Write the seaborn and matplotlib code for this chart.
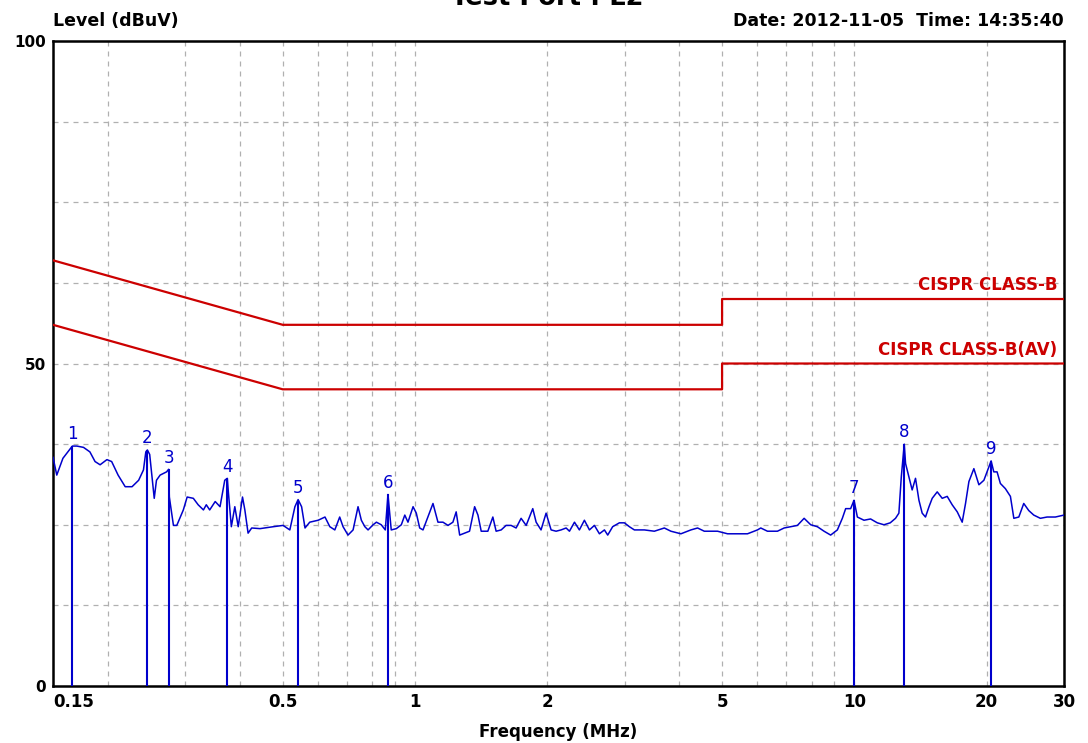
import pandas as pd
import seaborn as sns
import matplotlib
matplotlib.use('Agg')
import matplotlib.pyplot as plt
from matplotlib.ticker import FixedLocator, NullFormatter

freq_mhz = [
    0.150, 0.153, 0.158, 0.166, 0.170, 0.176, 0.182, 0.187, 0.192, 0.199,
    0.204, 0.211, 0.219, 0.227, 0.235, 0.241, 0.244, 0.246, 0.249, 0.252,
    0.255, 0.258, 0.263, 0.272, 0.275, 0.276, 0.282, 0.287, 0.297, 0.303,
    0.313, 0.321, 0.330, 0.335, 0.341, 0.351, 0.360, 0.369, 0.374, 0.376,
    0.382, 0.389, 0.396, 0.405, 0.410, 0.417, 0.425, 0.444, 0.476, 0.501,
    0.519, 0.533, 0.542, 0.552, 0.562, 0.576, 0.602, 0.624, 0.640, 0.657,
    0.674, 0.686, 0.704, 0.723, 0.742, 0.755, 0.769, 0.782, 0.803, 0.817,
    0.838, 0.856, 0.868, 0.883, 0.907, 0.931, 0.948, 0.964, 0.990, 1.007,
    1.025, 1.043, 1.070, 1.099, 1.128, 1.158, 1.189, 1.220, 1.241, 1.264,
    1.297, 1.331, 1.367, 1.391, 1.415, 1.465, 1.504, 1.530, 1.571, 1.612,
    1.655, 1.699, 1.744, 1.791, 1.854, 1.887, 1.936, 1.988, 2.041, 2.095,
    2.150, 2.208, 2.247, 2.307, 2.367, 2.430, 2.495, 2.561, 2.629, 2.699,
    2.746, 2.818, 2.919, 2.997, 3.076, 3.158, 3.327, 3.506, 3.694, 3.824,
    4.030, 4.246, 4.398, 4.555, 4.883, 5.146, 5.422, 5.713, 6.019, 6.124,
    6.343, 6.683, 6.922, 7.167, 7.421, 7.686, 7.956, 8.239, 8.532, 8.833,
    9.149, 9.391, 9.556, 9.808, 9.984, 10.16, 10.52, 10.89, 11.28, 11.68,
    12.07, 12.41, 12.63, 12.79, 12.99, 13.08, 13.31, 13.54, 13.78, 14.03,
    14.27, 14.52, 14.79, 15.04, 15.44, 15.85, 16.27, 16.70, 17.15, 17.60,
    17.91, 18.23, 18.71, 19.21, 19.72, 20.48, 20.77, 21.13, 21.50, 22.07,
    22.66, 23.07, 23.68, 24.30, 24.95, 25.61, 26.51, 27.46, 28.68, 30.00,
]
level_dbuv = [
    35.5, 32.7, 35.3, 37.2, 37.2, 37.0, 36.3, 34.8, 34.3, 35.1,
    34.8, 32.7, 30.9, 30.9, 31.9, 33.5, 36.3, 36.6, 35.9, 32.4,
    29.1, 31.9, 32.7, 33.2, 33.6, 29.3, 24.9, 24.9, 27.3, 29.3,
    29.1, 28.1, 27.3, 28.1, 27.3, 28.6, 27.8, 31.9, 32.2, 30.1,
    24.7, 27.8, 24.7, 29.3, 27.3, 23.7, 24.5, 24.4, 24.7, 24.9,
    24.2, 27.8, 28.9, 27.8, 24.5, 25.4, 25.7, 26.2, 24.7, 24.2,
    26.2, 24.7, 23.4, 24.2, 27.8, 25.7, 24.7, 24.2, 25.0, 25.4,
    25.0, 24.2, 29.7, 24.2, 24.4, 25.0, 26.5, 25.4, 27.8, 26.8,
    24.5, 24.2, 26.2, 28.3, 25.4, 25.4, 24.9, 25.4, 27.0, 23.4,
    23.7, 24.0, 27.8, 26.5, 24.0, 24.0, 26.2, 24.0, 24.2, 24.9,
    24.9, 24.5, 26.0, 24.9, 27.5, 25.4, 24.2, 26.8, 24.2, 24.0,
    24.2, 24.5, 24.0, 25.4, 24.2, 25.7, 24.2, 24.9, 23.6, 24.2,
    23.4, 24.7, 25.3, 25.3, 24.7, 24.2, 24.2, 24.0, 24.5, 24.0,
    23.6, 24.2, 24.5, 24.0, 24.0, 23.6, 23.6, 23.6, 24.2, 24.5,
    24.0, 24.0, 24.5, 24.7, 24.9, 26.0, 25.0, 24.7, 24.0, 23.4,
    24.2, 26.0, 27.5, 27.5, 28.8, 26.2, 25.7, 25.9, 25.3, 25.0,
    25.3, 26.0, 26.8, 32.4, 37.5, 34.5, 32.4, 30.4, 32.2, 28.8,
    26.8, 26.2, 27.8, 29.1, 30.1, 29.1, 29.4, 28.1, 27.0, 25.4,
    28.3, 31.7, 33.7, 31.2, 31.9, 34.9, 33.2, 33.2, 31.4, 30.6,
    29.4, 26.0, 26.2, 28.3, 27.2, 26.5, 26.0, 26.2, 26.2, 26.5,
]

# marker peaks
marker_ids = ['1', '2', '3', '4', '5', '6', '7', '8', '9']
marker_freq = [0.166, 0.246, 0.275, 0.374, 0.542, 0.868, 9.98, 12.99, 20.48]
marker_level = [37.2, 36.6, 33.6, 32.2, 28.9, 29.7, 28.8, 37.5, 34.9]

# CISPR 22 class B limits
limit_freq = [0.15, 0.5, 5.0, 5.0, 30.0]
limit_qp = [66, 56, 56, 60, 60]
limit_av = [56, 46, 46, 50, 50]

x_labels = ['0.15', '0.5', '1', '2', '5', '10', '20', '30']
x_label_pos = [0.15, 0.5, 1, 2, 5, 10, 20, 30]
x_grid_minor = [0.2, 0.3, 0.4, 0.6, 0.7, 0.8, 0.9, 3, 4, 6, 7, 8, 9]

sns.set_style('white')
plt.rcParams['font.family'] = ['DejaVu Sans']
plt.rcParams['text.color'] = 'black'
plt.rcParams['axes.labelcolor'] = 'black'
plt.rcParams['xtick.color'] = 'black'
plt.rcParams['ytick.color'] = 'black'

BLUE = '#0000CC'
RED = '#CC0000'

fig = plt.figure(figsize=(10.88, 7.43), dpi=100)
ax = fig.add_axes([0.0487, 0.0767, 0.9292, 0.8681])

trace = pd.DataFrame({'freq': freq_mhz, 'level': level_dbuv})
limits = pd.DataFrame({'freq': limit_freq, 'qp': limit_qp, 'av': limit_av})

sns.lineplot(data=trace, x='freq', y='level', ax=ax, color=BLUE, lw=1.1,
             estimator=None, sort=False, zorder=3)
sns.lineplot(data=limits, x='freq', y='qp', ax=ax, color=RED, lw=1.6,
             estimator=None, sort=False, zorder=4)
sns.lineplot(data=limits, x='freq', y='av', ax=ax, color=RED, lw=1.6,
             estimator=None, sort=False, zorder=4)

ax.vlines(marker_freq, 0, marker_level, colors=BLUE, lw=1.5, zorder=3)
for mid, mf, ml in zip(marker_ids, marker_freq, marker_level):
    ax.annotate(mid, (mf, ml), xytext=(0, 2), textcoords='offset points',
                ha='center', va='bottom', color=BLUE, fontsize=12)

ax.set_xscale('log')
ax.set_xlim(0.15, 30)
ax.set_ylim(0, 100)

ax.xaxis.set_major_locator(FixedLocator(x_label_pos))
ax.set_xticklabels(x_labels)
ax.xaxis.set_minor_locator(FixedLocator(x_grid_minor))
ax.xaxis.set_minor_formatter(NullFormatter())
ax.get_xticklabels()[0].set_horizontalalignment('left')

y_ticks = [0, 12.5, 25, 37.5, 50, 62.5, 75, 87.5, 100]
ax.set_yticks(y_ticks)
ax.set_yticklabels(['0', '', '', '', '50', '', '', '', '100'])

ax.tick_params(axis='both', which='both', length=0, pad=5)
ax.tick_params(axis='x', labelsize=12)
ax.tick_params(axis='y', labelsize=11)
for lab in ax.get_xticklabels() + ax.get_yticklabels():
    lab.set_fontweight('bold')

ax.grid(True, which='both', color='#B0B0B0', linestyle=(0, (4, 4)), lw=0.9)

for sp in ax.spines.values():
    sp.set_color('black')
    sp.set_linewidth(1.8)
    sp.set_visible(True)

ax.set_xlabel('Frequency (MHz)', fontsize=12, fontweight='bold', labelpad=9)
ax.set_ylabel('')

ax.text(29, 62.2, 'CISPR CLASS-B', color=RED, fontsize=12, fontweight='bold',
        ha='right', va='center')
ax.text(29, 52.1, 'CISPR CLASS-B(AV)', color=RED, fontsize=12, fontweight='bold',
        ha='right', va='center')

fig.text(0.0487, 0.972, 'Level (dBuV)', fontsize=12.5, fontweight='bold',
         ha='left', va='center')
fig.text(0.978, 0.972, 'Date: 2012-11-05  Time: 14:35:40', fontsize=12.5,
         fontweight='bold', ha='right', va='center')
# title sits partly above the top edge, as in the original export
fig.text(0.503, 0.9933, 'Test Port : L2', fontsize=18.5, fontweight='bold',
         ha='center', va='baseline')

fig.savefig('out.png', dpi=100)
